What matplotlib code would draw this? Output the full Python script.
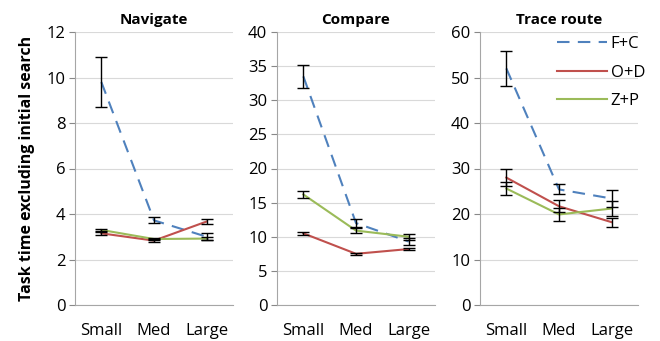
import numpy as np
import matplotlib
matplotlib.use("Agg")
import matplotlib.pyplot as plt

plt.rcParams['font.family'] = ['Open Sans', 'DejaVu Sans']

sizes = ["Small", "Med", "Large"]
series = ["F+C", "O+D", "Z+P"]

# mean values per panel, one row per series
nav = [[9.8, 3.72, 3.0], [3.15, 2.83, 3.67], [3.3, 2.9, 2.92]]
nav_err = [[1.1, 0.13, 0.15], [0.08, 0.05, 0.12], [0.05, 0.05, 0.05]]
cmp_ = [[33.5, 12.0, 9.3], [10.5, 7.5, 8.2], [16.2, 10.9, 10.0]]
cmp_err = [[1.7, 0.6, 0.5], [0.2, 0.15, 0.15], [0.5, 0.35, 0.45]]
trace = [[52.0, 25.4, 23.4], [28.0, 21.7, 18.2], [25.6, 19.9, 21.2]]
trace_err = [[3.9, 1.1, 1.8], [1.8, 1.3, 1.0], [1.4, 1.4, 1.6]]

titles = ["Navigate", "Compare", "Trace route"]
ylims = [12, 40, 60]
ysteps = [2, 5, 10]
colors = ["#4F81BD", "#C0504D", "#9BBB59"]
styles = [(0, (6, 4)), "-", "-"]

fig = plt.figure(figsize=(6.6, 3.41), dpi=100)
lefts = [75 / 660, 277 / 660, 480 / 660]
x = np.arange(3)

for i, (vals, errs) in enumerate(zip([nav, cmp_, trace], [nav_err, cmp_err, trace_err])):
    ax = fig.add_axes([lefts[i], 36 / 341, 158 / 660, 273 / 341])
    for j in range(3):
        ax.plot(x, vals[j], color=colors[j], linestyle=styles[j], lw=1.5, label=series[j], zorder=3)
        ax.errorbar(x, vals[j], yerr=errs[j], fmt="none", ecolor="black", elinewidth=1,
                    capsize=4, capthick=1, zorder=4)
    ax.set_xlim(-0.5, 2.5)
    ax.set_ylim(0, ylims[i])
    ax.set_yticks(np.arange(0, ylims[i] + 1, ysteps[i]))
    ax.set_xticks(x)
    ax.set_xticklabels(sizes, fontsize=12)
    ax.tick_params(axis="y", labelsize=12, length=4, color="#888888", pad=3)
    ax.tick_params(axis="x", length=0, pad=13)
    ax.grid(axis="y", color="#D9D9D9", lw=0.8)
    ax.set_axisbelow(True)
    for s in ["top", "right"]:
        ax.spines[s].set_visible(False)
    for s in ["left", "bottom"]:
        ax.spines[s].set_color("#A6A6A6")
    ax.set_title(titles[i], fontsize=11, fontweight="bold", pad=6)
    if i == 0:
        ax.set_ylabel("Task time excluding initial search", fontsize=11.5, fontweight="bold",
                      labelpad=8)
    if i == 2:
        ax.legend(loc="upper right", frameon=False, fontsize=12, handlelength=3.0,
                  handletextpad=0.2, bbox_to_anchor=(1.14, 1.04), labelspacing=0.75)

fig.savefig("out.png", dpi=100)
